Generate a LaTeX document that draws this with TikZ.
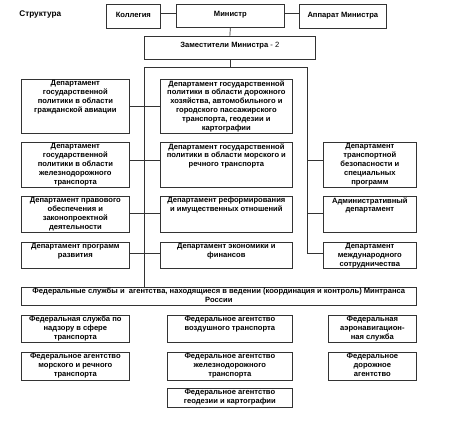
\documentclass[tikz,border=0pt]{standalone}
\usepackage{fontspec}
\setmainfont{Liberation Sans}
\begin{document}
\begin{tikzpicture}[x=1pt, y=-1pt, line width=0.7pt, draw=black!80,
    box/.style={draw, anchor=north west, inner sep=0pt},
    txt/.style={anchor=north, align=center, inner sep=1pt, font=\bfseries\fontsize{7.6}{8.9}\selectfont}]
  \useasboundingbox (0,0) rectangle (474,424);

  % Top level
  \node[txt, anchor=west, font=\bfseries\fontsize{8.2}{10}\selectfont] (title) at (18,14) {Структура};
  \node[box, minimum width=54pt, minimum height=24pt, label={[txt, yshift=-7pt]north:Коллегия}] (koll) at (106,4) {};
  \node[box, minimum width=108pt, minimum height=23pt, label={[txt, yshift=-6pt]north:Министр}] (min) at (176,4) {};
  \node[box, minimum width=87pt, minimum height=24pt, label={[txt, yshift=-7pt]north:Аппарат Министра}] (app) at (299,4) {};
  \node[box, minimum width=171pt, minimum height=23pt, label={[txt, yshift=-5pt]north:Заместители Министра {\mdseries - 2}}] (zam) at (144,36) {};

  % Departments, left column
  \node[box, minimum width=108pt, minimum height=54pt, label={[txt]north:Департамент\\государственной\\политики в области\\гражданской авиации}] (L1) at (21,79) {};
  \node[box, minimum width=108pt, minimum height=45pt, label={[txt]north:Департамент\\государственной\\политики в области\\железнодорожного\\транспорта}] (L2) at (21,142) {};
  \node[box, minimum width=108pt, minimum height=36pt, label={[txt]north:Департамент правового\\обеспечения и\\законопроектной\\деятельности}] (L3) at (21,196) {};
  \node[box, minimum width=108pt, minimum height=26pt, label={[txt]north:Департамент программ\\развития}] (L4) at (21,242) {};

  % Departments, middle column
  \node[box, minimum width=132pt, minimum height=54pt, label={[txt]north:{Департамент государственной\\политики в области дорожного\\хозяйства, автомобильного и\\городского пассажирского\\транспорта, геодезии и\\картографии}}] (M1) at (160,79) {};
  \node[box, minimum width=132pt, minimum height=45pt, label={[txt]north:Департамент государственной\\политики в области морского и\\речного транспорта}] (M2) at (160,142) {};
  \node[box, minimum width=132pt, minimum height=36pt, label={[txt]north:Департамент реформирования\\и имущественных отношений}] (M3) at (160,196) {};
  \node[box, minimum width=132pt, minimum height=26pt, label={[txt]north:Департамент экономики и\\финансов}] (M4) at (160,242) {};

  % Departments, right column
  \node[box, minimum width=93pt, minimum height=45pt, label={[txt]north:Департамент\\транспортной\\безопасности и\\специальных\\программ}] (R2) at (323,142) {};
  \node[box, minimum width=93pt, minimum height=36pt, label={[txt]north:Административный\\департамент}] (R3) at (323,196) {};
  \node[box, minimum width=93pt, minimum height=26pt, label={[txt]north:Департамент\\международного\\сотрудничества}] (R4) at (323,242) {};

  % Federal services and agencies
  \node[box, minimum width=395pt, minimum height=18pt, label={[txt]north:{Федеральные службы и\ \ агентства, находящиеся в ведении (координация и контроль) Минтранса\\России}}] (fed) at (21,287) {};
  \node[box, minimum width=108pt, minimum height=27pt, label={[txt]north:Федеральная служба по\\надзору в сфере\\транспорта}] (FA1) at (21,315) {};
  \node[box, minimum width=125pt, minimum height=27pt, label={[txt]north:Федеральное агентство\\воздушного транспорта}] (FA2) at (167,315) {};
  \node[box, minimum width=88pt, minimum height=27pt, label={[txt]north:Федеральная\\аэронавигацион-\\ная служба}] (FA3) at (328,315) {};
  \node[box, minimum width=108pt, minimum height=28pt, label={[txt]north:Федеральное агентство\\морского и речного\\транспорта}] (FB1) at (21,352) {};
  \node[box, minimum width=125pt, minimum height=28pt, label={[txt]north:Федеральное агентство\\железнодорожного\\транспорта}] (FB2) at (167,352) {};
  \node[box, minimum width=88pt, minimum height=28pt, label={[txt]north:Федеральное\\дорожное\\агентство}] (FB3) at (328,352) {};
  \node[box, minimum width=125pt, minimum height=19pt, label={[txt]north:Федеральное агентство\\геодезии и картографии}] (FC2) at (167,388) {};

  % Connections
  \coordinate (busL) at (144,67);
  \coordinate (busR) at (307,67);
  \draw ([yshift=3pt]koll.east) -- ([yshift=3pt]koll.east -| min.west);
  \draw ([yshift=3pt]app.west) -- ([yshift=3pt]app.west -| min.east);
  \draw (min.south) -- (zam.north);
  \draw (zam.south) -- (zam.south |- busL);
  \draw (busL |- fed.north) -- (busL) -- (busR) -- ([yshift=2pt]busR |- R4.west);
  \foreach \r/\s in {1/0,2/5,3/1,4/2} {
    \draw ([yshift=\s pt]L\r.east) -- ([yshift=\s pt]L\r.east -| M\r.west);
  }
  \foreach \r/\s in {2/5,3/1,4/2} {
    \draw ([yshift=\s pt]R\r.west) -- ([yshift=\s pt]R\r.west -| busR);
  }
\end{tikzpicture}
\end{document}
